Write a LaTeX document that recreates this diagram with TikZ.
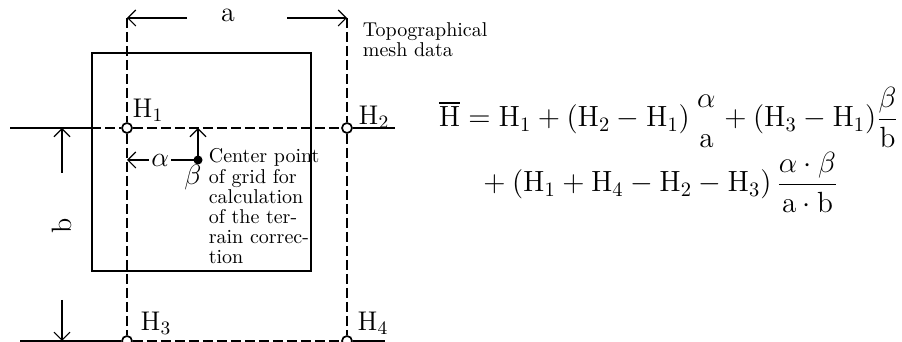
\documentclass[tikz,border=0pt]{standalone}
\usepackage{fix-cm}
\usepackage{amsmath}
\usetikzlibrary{arrows.meta,positioning}

\begin{document}
\begin{tikzpicture}[
    x=0.5pt, y=-0.5pt,
    line width=0.85pt,
    grid/.style={dash pattern=on 5pt off 2pt},
    knot/.style={circle, draw, fill=white, inner sep=0pt, minimum size=5pt},
    ctr/.style={circle, draw, fill=black, inner sep=0pt, minimum size=3.6pt},
    dim/.style={-{Straight Barb[length=1.4mm]}, line width=0.6pt},
    hlbl/.style={font=\fontsize{13.5}{15}\selectfont, inner sep=1pt},
    glbl/.style={font=\fontsize{14}{16}\selectfont, inner sep=1pt},
    note/.style={font=\fontsize{10}{10.1}\selectfont, align=left, inner sep=0pt},
    eq/.style={font=\fontsize{14.6}{16}\selectfont, inner sep=0pt}
]
\useasboundingbox (0,0) rectangle (902,342);

% mesh points
\node[knot] (h1) at (127,128) {};
\node[knot] (h2) at (347,128) {};
\node[knot] (h3) at (127,341) {};
\node[knot] (h4) at (347,341) {};
\node[hlbl] (lh1) at (148,110) {$\mathrm{H}_1$};
\node[hlbl] (lh2) at (374,117) {$\mathrm{H}_2$};
\node[hlbl] (lh3) at (156,323) {$\mathrm{H}_3$};
\node[hlbl] (lh4) at (373,323) {$\mathrm{H}_4$};

% grid cell
\node[draw, inner sep=0pt, minimum width=109.5pt, minimum height=109pt] (cell) at (201.5,162) {};

\coordinate (tl) at (127,18);
\coordinate (tr) at (347,18);
\coordinate (l1) at (10,128);
\coordinate (r1) at (395,128);
\coordinate (l2) at (20,341);
\coordinate (r2) at (385,341);

\draw[grid] (tl) -- (h1);
\draw[grid] (h1) -- (h3);
\draw[grid] (tr) -- (h2);
\draw[grid] (h2) -- (h4);
\draw (l1) -- (cell.west |- h1);
\draw[grid] (cell.west |- h1) -- (h1);
\draw[grid] (h1) -- (h2);
\draw (h2) -- (r1);
\draw (l2) -- (h3);
\draw[grid] (h3) -- (h4);
\draw (h4) -- (r2);

% dimension a
\node[glbl] (la) at (228,15) {a};
\coordinate (a1) at (187,18);
\coordinate (a2) at (287,18);
\draw[dim] (a1) -- (tl);
\draw[dim] (a2) -- (tr);

% dimension b
\node[glbl, rotate=90] (lb) at (62,226) {b};
\coordinate (b1) at (62,173);
\coordinate (b2) at (62,300);
\draw[dim] (b1) -- (b1 |- h1);
\draw[dim] (b2) -- (b2 |- h3);

% center point
\node[ctr] (c) at (198,160) {};
\draw[dim] (c) -- (c |- h1);
\draw[dim] (c) -- node[glbl, fill=white] (lalpha) {$\alpha$} (c -| h1);
\node[glbl] (lbeta) at (193,178) {$\beta$};
\node[note, anchor=north west] (ctxt) at (208,148) {Center point\\of grid for\\calculation\\of the ter-\\rain correc-\\tion};

\node[note, anchor=north west] (topo) at (362,22) {Topographical\\mesh data};

% formula
\node[eq, anchor=base west] (eq1) at (438,127)
  {$\overline{\mathrm{H}} = \mathrm{H}_1 + (\mathrm{H}_2 - \mathrm{H}_1)\,\genfrac{}{}{0pt}{0}{\alpha}{\mathrm{a}} + (\mathrm{H}_3 - \mathrm{H}_1)\dfrac{\beta}{\mathrm{b}}$};
\node[eq, anchor=base west] (eq2) at (476,192)
  {${}+ (\mathrm{H}_1 + \mathrm{H}_4 - \mathrm{H}_2 - \mathrm{H}_3)\,\dfrac{\alpha\cdot\beta}{\mathrm{a}\cdot\mathrm{b}}$};
\end{tikzpicture}
\end{document}
